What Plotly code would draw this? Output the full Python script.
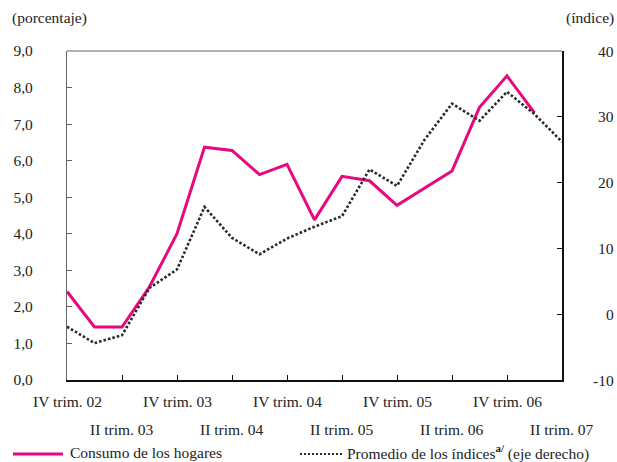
import plotly.graph_objects as go

quarters = ["IV-02", "I-03", "II-03", "III-03", "IV-03", "I-04", "II-04", "III-04", "IV-04",
            "I-05", "II-05", "III-05", "IV-05", "I-06", "II-06", "III-06", "IV-06", "I-07", "II-07"]
consumo = [2.42, 1.45, 1.45, 2.55, 4.0, 6.37, 6.28, 5.62, 5.9, 4.38, 5.57, 5.45, 4.78, 5.25, 5.72,
           7.46, 8.32, 7.31, None]
indices = [-1.9, -4.4, -3.2, 4.0, 6.8, 16.3, 11.6, 9.1, 11.5, 13.3, 14.9, 22.0, 19.5, 26.5, 32.0,
           29.4, 33.8, 30.4, 26.2]
x_labels_top = ["IV trim. 02", "IV trim. 03", "IV trim. 04", "IV trim. 05", "IV trim. 06"]
x_labels_top_pos = [0, 4, 8, 12, 16]
x_labels_bot = ["II trim. 03", "II trim. 04", "II trim. 05", "II trim. 06", "II trim. 07"]
x_labels_bot_pos = [2, 6, 10, 14, 18]
x_tick_pos = [2, 4, 6, 8, 10, 12, 14, 16]
left_ticks = [0, 1, 2, 3, 4, 5, 6, 7, 8, 9]
right_ticks = [-10, 0, 10, 20, 30, 40]
right_labels = ["-10", "0", "10", "20", "30", "40"]

PINK = "#E6097F"
DOT = "#2b2b2b"
FONT = "Liberation Serif"
FS = 15.5
TXT = "#222"

xs = list(range(len(quarters)))

fig = go.Figure()
fig.add_trace(go.Scatter(x=xs, y=consumo, mode="lines", name="Consumo de los hogares",
                         line=dict(color=PINK, width=3), showlegend=False))
fig.add_trace(go.Scatter(x=xs, y=indices, mode="lines", yaxis="y2",
                         name="Promedio de los índices (eje derecho)",
                         line=dict(color=DOT, width=2.6, dash="2.6px,2px"), showlegend=False))

W, H = 617, 462
L, R, T, B = 67, 55, 51, 82
pw, ph = W - L - R, H - T - B

def px_x(p):
    return (p - L) / pw

def px_y(p):
    return (H - B - p) / ph

def txt(x, xref, y, yref, text, xanchor):
    return dict(x=x, xref=xref, y=y, yref=yref, text=text, showarrow=False,
                xanchor=xanchor, yanchor="middle", font=dict(family=FONT, size=FS, color=TXT))

LEG_Y = 452

annotations = []
for lab, pos in zip(x_labels_top, x_labels_top_pos):
    annotations.append(txt(pos, "x", px_y(401), "paper", lab, "center"))
for lab, pos in zip(x_labels_bot, x_labels_bot_pos):
    annotations.append(txt(pos, "x", px_y(429), "paper", lab, "center"))
for lab, v in zip(right_labels, right_ticks):
    annotations.append(txt(px_x(616), "paper", v, "y2", lab, "right"))
annotations.append(txt(px_x(10), "paper", px_y(18), "paper", "(porcentaje)", "left"))
annotations.append(txt(px_x(616), "paper", px_y(18), "paper", "(índice)", "right"))
annotations.append(txt(px_x(68), "paper", px_y(LEG_Y), "paper", "Consumo de los hogares", "left"))
annotations.append(txt(px_x(345), "paper", px_y(LEG_Y), "paper",
                       "Promedio de los índices<sup><b>a/</b></sup> (eje derecho)", "left"))

shapes = [
    dict(type="line", xref="paper", yref="paper", x0=0, x1=1, y0=1, y1=1,
         line=dict(color="#666", width=1.2)),
    dict(type="line", xref="paper", yref="paper", x0=px_x(13), x1=px_x(63), y0=px_y(LEG_Y + 2),
         y1=px_y(LEG_Y + 2), line=dict(color=PINK, width=3)),
    dict(type="line", xref="paper", yref="paper", x0=px_x(300), x1=px_x(343), y0=px_y(LEG_Y + 2),
         y1=px_y(LEG_Y + 2), line=dict(color=DOT, width=2, dash="2px,2px")),
]

fig.update_layout(
    width=W, height=H,
    margin=dict(l=L, r=R, t=T, b=B, pad=0),
    paper_bgcolor="white", plot_bgcolor="white",
    separators=",.",
    font=dict(family=FONT, size=FS, color=TXT),
    xaxis=dict(range=[0, 18], showgrid=False, zeroline=False, showline=True, linecolor="#111",
               linewidth=1.5, tickmode="array", tickvals=x_tick_pos, ticks="inside", ticklen=5,
               tickcolor="#111", showticklabels=False),
    yaxis=dict(range=[0, 9], tickvals=left_ticks, tickformat=".1f", showgrid=False, zeroline=False,
               showline=True, linecolor="#666", linewidth=1.2, ticks="inside", ticklen=5, tickcolor="#666",
               ticklabelstandoff=30),
    yaxis2=dict(range=[-10, 40], tickvals=right_ticks, overlaying="y", side="right", showgrid=False,
                zeroline=False, showline=True, linecolor="#111", linewidth=1.5, ticks="inside", ticklen=5,
                tickcolor="#111", showticklabels=False),
    annotations=annotations,
    shapes=shapes,
    showlegend=False,
)

fig.write_html("out.html", config={"displayModeBar": False},
               post_script="document.body.style.margin='0';document.body.style.overflow='hidden';")
